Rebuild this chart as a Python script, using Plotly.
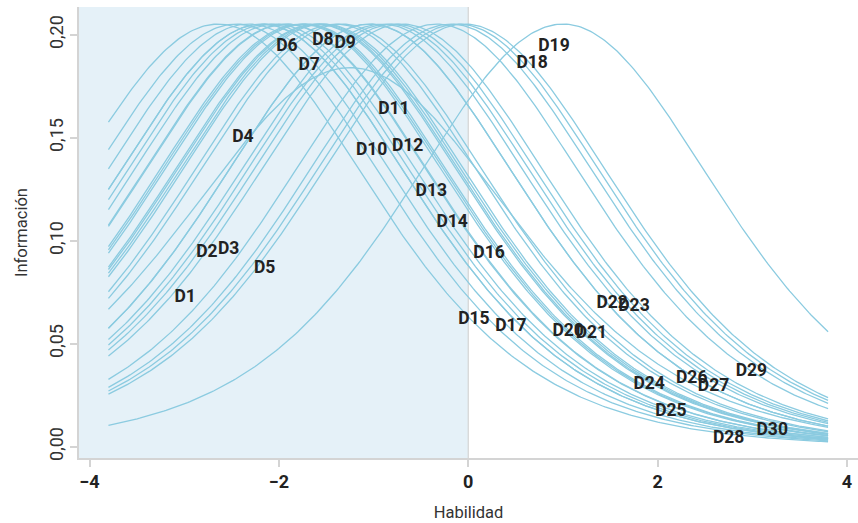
import numpy as np
import plotly.graph_objects as go

# ---- data ----
item_labels = [f"D{i}" for i in range(1, 31)]
# item locations (difficulty) and discriminations
item_locations = [-2.64, -2.45, -2.32, -2.18, -2.18, -2.11, -2.04, -1.93, -1.92, -1.77,
                  -1.745, -1.72, -1.61, -1.59, -1.56, -1.53, -1.40, -1.34, -1.25, -1.04,
                  -1.04, -0.91, -0.845, -0.78, -0.70, -0.335, -0.185, -0.11, -0.04, 1.00]
item_discriminations = [0.906] * 18 + [0.858] + [0.906] * 11

label_x = [-2.99, -2.76, -2.53, -2.38, -2.15, -1.915, -1.68, -1.535, -1.30, -1.02,
           -0.785, -0.64, -0.39, -0.17, 0.06, 0.22, 0.45, 0.675, 0.905, 1.055,
           1.30, 1.52, 1.75, 1.91, 2.14, 2.36, 2.59, 2.75, 2.99, 3.21]
label_y = [0.0722, 0.094, 0.0955, 0.1502, 0.0867, 0.1945, 0.185, 0.1974, 0.1955, 0.144,
           0.1639, 0.1455, 0.124, 0.109, 0.0615, 0.0935, 0.0585, 0.1862, 0.1945, 0.056,
           0.055, 0.0696, 0.068, 0.030, 0.0168, 0.0332, 0.0294, 0.0037, 0.0362, 0.0076]

x_tick_vals = [-4, -2, 0, 2, 4]
x_tick_text = ["\u22124", "\u22122", "0", "2", "4"]
y_tick_vals = [0.00, 0.05, 0.10, 0.15, 0.20]
y_tick_text = ["0,00", "0,05", "0,10", "0,15", "0,20"]

theta_min, theta_max = -3.8, 3.8
x_range = [-4.111, 4.116]
y_range = [-0.0055, 0.2135]

LINE = "#8BCBE0"
SHADE = "#E5F1F8"
AXIS = "#D4D4D4"
FONT = "Roboto"

fig = go.Figure()

theta = np.linspace(theta_min, theta_max, 301)
for lab, b, a in zip(item_labels, item_locations, item_discriminations):
    p = 1.0 / (1.0 + np.exp(-a * (theta - b)))
    info = a * a * p * (1 - p)
    fig.add_trace(go.Scatter(x=theta, y=info, mode="lines", name=lab,
                             line=dict(color=LINE, width=1.3), hoverinfo="skip",
                             showlegend=False))

fig.add_trace(go.Scatter(x=label_x, y=label_y, mode="text", text=item_labels,
                         textfont=dict(family=FONT, size=17.5, color="#222222", weight="bold"),
                         showlegend=False, hoverinfo="skip"))

fig.add_shape(type="rect", xref="x", yref="y", x0=x_range[0], x1=0, y0=y_range[0], y1=y_range[1],
              fillcolor=SHADE, line=dict(width=0), layer="below")
fig.add_shape(type="line", xref="x", yref="y", x0=0, x1=0, y0=y_range[0], y1=y_range[1],
              line=dict(color=AXIS, width=1.2), layer="below")

fig.update_layout(
    width=858, height=523,
    margin=dict(l=79, r=0, t=7, b=65),
    paper_bgcolor="white", plot_bgcolor="white",
    font=dict(family=FONT, color="#333333"),
    xaxis=dict(range=x_range, tickvals=x_tick_vals, ticktext=x_tick_text, automargin=False,
               showgrid=False, zeroline=False, showline=True, linecolor=AXIS, linewidth=1.5,
               ticks="outside", ticklen=7, tickcolor=AXIS, tickwidth=1.5,
               tickfont=dict(family=FONT, size=18, color="#222222", weight="bold"),
               title=dict(text="Habilidad", font=dict(family=FONT, size=16.5, color="#333333"), standoff=15)),
    yaxis=dict(range=y_range, tickvals=y_tick_vals, ticktext=y_tick_text, automargin=False,
               showgrid=False, zeroline=False, showline=True, linecolor=AXIS, linewidth=1.5,
               ticks="outside", ticklen=7, tickcolor=AXIS, tickwidth=1.5, tickangle=-90,
               tickfont=dict(family=FONT, size=18, color="#333333"),
               title=dict(text="Información", font=dict(family=FONT, size=16.5, color="#333333"), standoff=14)),
)

fig.write_html("out.html", config={"displayModeBar": False},
               post_script="document.body.style.margin='0';document.body.style.overflow='hidden';")
